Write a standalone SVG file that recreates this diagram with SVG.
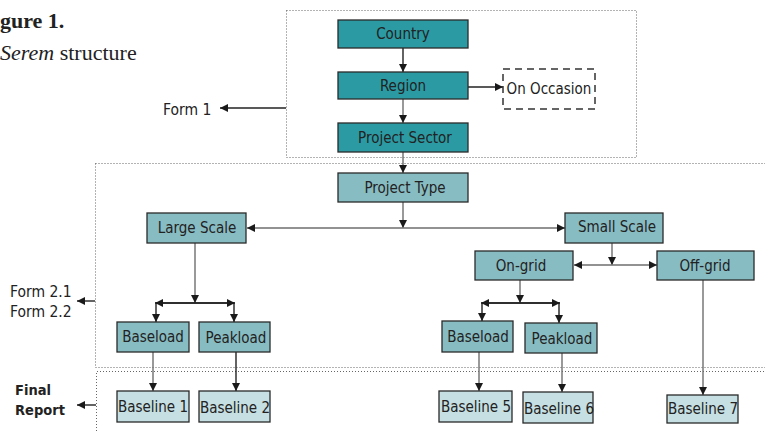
<svg xmlns="http://www.w3.org/2000/svg" width="765" height="432" viewBox="0 0 765 432">
<style>
.bg{fill:#fff}
.zone{fill:none;stroke:#666;stroke-width:1;stroke-dasharray:1 2}
.n1 rect{fill:#2b9aa3;stroke:#2a2a2a;stroke-width:1.3}
.n2 rect{fill:#88bcc3;stroke:#2a2a2a;stroke-width:1.3}
.n3 rect{fill:#c6dfe2;stroke:#2a2a2a;stroke-width:1.3}
.dash rect{fill:#fff;stroke:#333;stroke-width:1.5;stroke-dasharray:7 5}
text{font-family:"DejaVu Sans Condensed","DejaVu Sans","Liberation Sans",sans-serif;font-size:15px;fill:#222}
.c{text-anchor:middle}
.title{font-family:"Liberation Serif",serif;font-size:22px;fill:#222}
.form{font-size:15.5px}
.fin{font-size:14.5px;font-weight:bold}
.conn line,.conn polyline{stroke:#6e6e6e;stroke-width:1.4;fill:none}
.conn .blk{stroke:#222}
</style>
<defs>
<marker id="ah" viewBox="0 0 10 10" refX="10" refY="5" markerWidth="8" markerHeight="8" markerUnits="userSpaceOnUse" orient="auto">
<path d="M0,0 L10,5 L0,10 Z" fill="#1a1a1a"/>
</marker>
</defs>
<rect class="bg" x="0" y="0" width="765" height="432"/>
<text class="title" x="0" y="28" font-weight="bold">gure 1.</text>
<text class="title" x="0" y="60"><tspan font-style="italic">Serem</tspan> structure</text>
<rect class="zone" x="286.5" y="10.5" width="350" height="147"/>
<rect class="zone" x="95.5" y="163.5" width="680" height="204"/>
<polyline class="zone" points="96.5,440 96.5,371.5 770,371.5"/>
<text class="form" x="163" y="115">Form 1</text>
<text class="form" x="10" y="297">Form 2.1</text>
<text class="form" x="10" y="317">Form 2.2</text>
<text class="fin" x="15" y="395">Final</text>
<text class="fin" x="15" y="415">Report</text>
<g id="connectors" class="conn">
<line x1="286" y1="108" x2="220" y2="108" class="blk" marker-end="url(#ah)"/>
<line x1="95" y1="301" x2="77" y2="301" class="blk" marker-end="url(#ah)"/>
<line x1="96" y1="405" x2="77" y2="405" class="blk" marker-end="url(#ah)"/>
<line x1="403" y1="48" x2="403" y2="72" class="blk" marker-end="url(#ah)"/>
<line x1="468" y1="87" x2="503" y2="87" class="blk" marker-end="url(#ah)"/>
<line x1="403" y1="99" x2="403" y2="123" marker-end="url(#ah)"/>
<line x1="403" y1="152" x2="403" y2="173" marker-end="url(#ah)"/>
<line x1="403" y1="202" x2="403" y2="228" marker-end="url(#ah)"/>
<line x1="403" y1="228" x2="247" y2="228" marker-end="url(#ah)"/>
<line x1="403" y1="228" x2="565" y2="228" marker-end="url(#ah)"/>
<line x1="612" y1="243" x2="612" y2="265" marker-end="url(#ah)"/>
<line x1="612" y1="265" x2="574" y2="265" marker-end="url(#ah)"/>
<line x1="612" y1="265" x2="657" y2="265" marker-end="url(#ah)"/>
<line x1="195" y1="243" x2="195" y2="303" marker-end="url(#ah)"/>
<polyline points="195,303 156,303 156,322" class="blk" marker-end="url(#ah)"/>
<polyline points="195,303 234,303 234,322" class="blk" marker-end="url(#ah)"/>
<line x1="195" y1="303" x2="155" y2="303" class="blk" marker-end="url(#ah)"/>
<line x1="195" y1="303" x2="235" y2="303" class="blk" marker-end="url(#ah)"/>
<line x1="520" y1="280" x2="520" y2="303" marker-end="url(#ah)"/>
<polyline points="520,303 482,303 482,321" class="blk" marker-end="url(#ah)"/>
<polyline points="520,303 559,303 559,323" class="blk" marker-end="url(#ah)"/>
<line x1="520" y1="303" x2="481" y2="303" class="blk" marker-end="url(#ah)"/>
<line x1="520" y1="303" x2="560" y2="303" class="blk" marker-end="url(#ah)"/>
<line x1="153" y1="352" x2="153" y2="391" marker-end="url(#ah)"/>
<line x1="236" y1="352" x2="236" y2="391" class="blk" marker-end="url(#ah)"/>
<line x1="479" y1="352" x2="479" y2="391" marker-end="url(#ah)"/>
<line x1="562" y1="353" x2="562" y2="392" marker-end="url(#ah)"/>
<line x1="703" y1="280" x2="703" y2="395" marker-end="url(#ah)"/>
</g>
<g id="country" class="n1"><rect x="338" y="20" width="130" height="28"/><text class="c" x="403" y="39">Country</text></g>
<g id="region" class="n1"><rect x="338" y="72" width="130" height="27"/><text class="c" x="403" y="91">Region</text></g>
<g id="on-occasion" class="dash"><rect x="503" y="69" width="92" height="40"/><text class="c" x="549" y="94">On Occasion</text></g>
<g id="project-sector" class="n1"><rect x="338" y="123" width="130" height="29"/><text class="c" x="405" y="143">Project Sector</text></g>
<g id="project-type" class="n2"><rect x="338" y="173" width="130" height="29"/><text class="c" x="405" y="193">Project Type</text></g>
<g id="large-scale" class="n2"><rect x="147" y="213" width="99" height="30"/><text class="c" x="197" y="233">Large Scale</text></g>
<g id="small-scale" class="n2"><rect x="565" y="213" width="98" height="30"/><text class="c" x="617" y="232">Small Scale</text></g>
<g id="on-grid" class="n2"><rect x="475" y="251" width="98" height="29"/><text class="c" x="521" y="271">On-grid</text></g>
<g id="off-grid" class="n2"><rect x="657" y="251" width="97" height="29"/><text class="c" x="705" y="271">Off-grid</text></g>
<g id="baseload-1" class="n2"><rect x="117" y="322" width="72" height="30"/><text class="c" x="153" y="342">Baseload</text></g>
<g id="peakload-1" class="n2"><rect x="199" y="322" width="71" height="30"/><text class="c" x="236" y="343">Peakload</text></g>
<g id="baseload-2" class="n2"><rect x="442" y="321" width="71" height="31"/><text class="c" x="478" y="342">Baseload</text></g>
<g id="peakload-2" class="n2"><rect x="525" y="323" width="72" height="30"/><text class="c" x="562" y="344">Peakload</text></g>
<g id="baseline-1" class="n3"><rect x="117" y="391" width="72" height="31"/><text class="c" x="153" y="412">Baseline 1</text></g>
<g id="baseline-2" class="n3"><rect x="199" y="391" width="71" height="31"/><text class="c" x="235" y="413">Baseline 2</text></g>
<g id="baseline-5" class="n3"><rect x="439" y="391" width="73" height="31"/><text class="c" x="476" y="412">Baseline 5</text></g>
<g id="baseline-6" class="n3"><rect x="523" y="392" width="70" height="31"/><text class="c" x="559" y="414">Baseline 6</text></g>
<g id="baseline-7" class="n3"><rect x="667" y="395" width="71" height="28"/><text class="c" x="703" y="414">Baseline 7</text></g>
</svg>
